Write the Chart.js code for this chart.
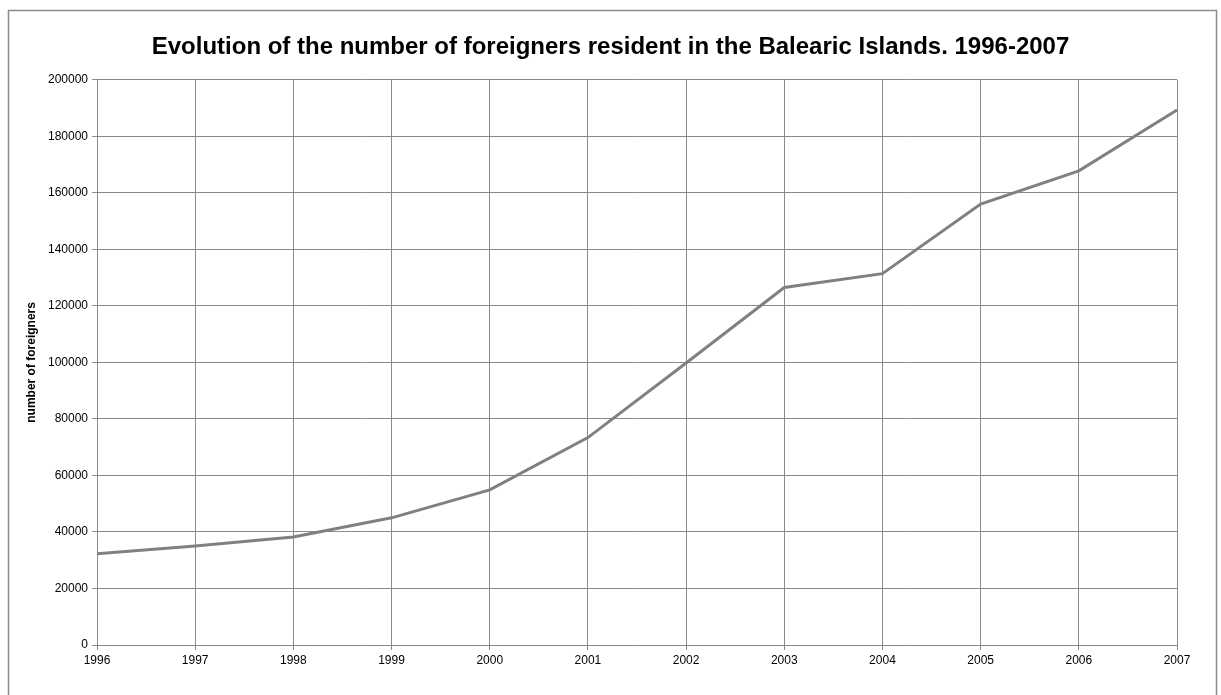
<!DOCTYPE html>
<html>
<head>
  <title>Foreigners resident in the Balearic Islands</title>
  <script src="https://cdn.jsdelivr.net/npm/chart.js"></script>
  <style>
    body { margin: 0; background: #fff; }
    #wrap { width: 1221px; height: 695px; }
  </style>
</head>
<body>
<div id="wrap"><canvas id="chart"></canvas></div>
<script>
  const years = ['1996', '1997', '1998', '1999', '2000', '2001', '2002', '2003', '2004', '2005', '2006', '2007'];
  const foreigners = [32300, 35000, 38200, 45000, 54900, 73400, 99800, 126500, 131400, 156000, 167800, 189300];
  const yTicks = [0, 20000, 40000, 60000, 80000, 100000, 120000, 140000, 160000, 180000, 200000];

  const font = 'Liberation Sans, Arial, sans-serif';

  // white page + thin gray frame like the spreadsheet export
  const frame = {
    id: 'frame',
    beforeDraw(chart) {
      const ctx = chart.ctx;
      ctx.save();
      ctx.fillStyle = '#fff';
      ctx.fillRect(0, 0, chart.width, chart.height);
      ctx.strokeStyle = '#8c8c8c';
      ctx.lineWidth = 1.5;
      ctx.strokeRect(8.5, 10.5, 1208, 700);
      ctx.restore();
    }
  };

  new Chart(document.getElementById('chart'), {
    type: 'line',
    data: {
      labels: years,
      datasets: [{
        label: 'foreigners',
        data: foreigners,
        borderColor: '#808080',
        borderWidth: 3,
        pointRadius: 0,
        tension: 0,
        fill: false
      }]
    },
    options: {
      responsive: true,
      maintainAspectRatio: false,
      animation: false,
      layout: { padding: 0 },
      plugins: {
        legend: { display: false },
        tooltip: { enabled: false },
        title: {
          display: true,
          text: 'Evolution of the number of foreigners resident in the Balearic Islands. 1996-2007',
          color: '#000',
          font: { family: font, size: 24, weight: 'bold' },
          padding: { top: 33, bottom: 18 }
        }
      },
      scales: {
        x: {
          grid: { color: '#8a8a8a', lineWidth: 1, tickLength: 5, offset: false },
          border: { color: '#8a8a8a' },
          ticks: { color: '#000', font: { family: font, size: 12 }, padding: 3, maxRotation: 0, autoSkip: false },
          afterFit(scale) { scale.height = 50; }
        },
        y: {
          min: 0,
          max: 200000,
          afterBuildTicks(scale) { scale.ticks = yTicks.map(v => ({ value: v })); },
          grid: { color: '#8a8a8a', lineWidth: 1, tickLength: 5 },
          border: { color: '#8a8a8a' },
          ticks: { color: '#000', font: { family: font, size: 12 }, padding: 4, callback: v => String(v) },
          title: {
            display: true,
            text: 'number of foreigners',
            color: '#000',
            font: { family: font, size: 12, weight: 'bold' },
            padding: { top: 24, bottom: 0 }
          },
          afterFit(scale) { scale.width = 97; }
        },
        // empty right-hand margin so the title stays centred on the page
        spacer: {
          type: 'linear',
          position: 'right',
          grid: { display: false },
          border: { display: false },
          ticks: { display: false },
          afterFit(scale) { scale.width = 44; }
        }
      }
    },
    plugins: [frame]
  });
</script>
</body>
</html>
